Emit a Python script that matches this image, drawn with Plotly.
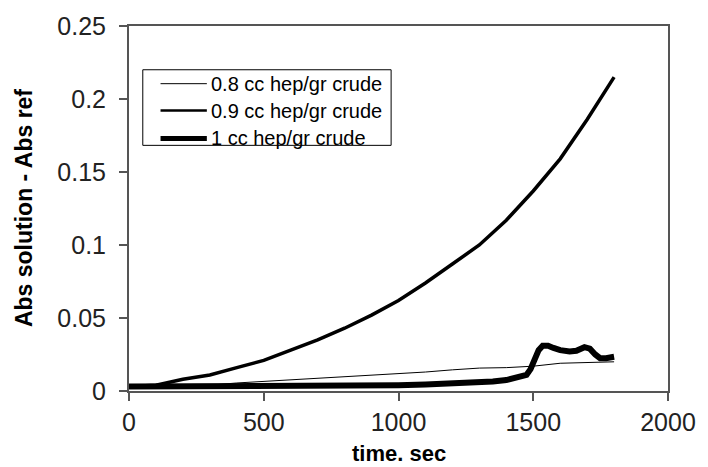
import plotly.graph_objects as go

# 0.8 cc hep/gr crude (thin)
t_08 = [0, 100, 200, 300, 400, 500, 600, 700, 800, 900, 1000, 1100, 1200, 1300, 1400, 1500, 1600, 1700, 1800]
v_08 = [0.002, 0.0025, 0.003, 0.004, 0.0055, 0.0065, 0.0075, 0.0088, 0.0098, 0.011, 0.012, 0.013, 0.0145,
        0.0157, 0.016, 0.017, 0.019, 0.0195, 0.020]

# 0.9 cc hep/gr crude (medium)
t_09 = [0, 100, 200, 300, 400, 500, 600, 700, 800, 900, 1000, 1100, 1200, 1300, 1400, 1500, 1600, 1700, 1800]
v_09 = [0.003, 0.004, 0.008, 0.011, 0.016, 0.021, 0.028, 0.035, 0.043, 0.052, 0.062, 0.074, 0.087,
        0.100, 0.117, 0.137, 0.159, 0.186, 0.215]

# 1 cc hep/gr crude (thick)
t_10 = [0, 200, 400, 600, 800, 1000, 1100, 1200, 1300, 1350, 1400, 1450, 1475, 1490, 1500, 1510, 1520,
        1535, 1555, 1575, 1600, 1635, 1660, 1690, 1710, 1730, 1748, 1770, 1800]
v_10 = [0.003, 0.003, 0.003, 0.0035, 0.004, 0.004, 0.0045, 0.005, 0.0058, 0.0065, 0.0075, 0.0095, 0.011,
        0.015, 0.019, 0.024, 0.028, 0.031, 0.031, 0.0295, 0.028, 0.027, 0.0275, 0.030, 0.029, 0.025,
        0.0225, 0.0225, 0.0235]

names = ["0.8 cc hep/gr crude", "0.9 cc hep/gr crude", "1 cc hep/gr crude"]
widths = [1, 3.5, 6]
legend_widths = [1, 2.5, 5]
x_ticks = [0, 500, 1000, 1500, 2000]
y_ticks = [0, 0.05, 0.1, 0.15, 0.2, 0.25]
x_title = "time. sec"
y_title = "Abs solution - Abs ref"

W, H = 708, 467
L, R, T, B = 129, 32, 24, 76
PW, PH = W - L - R, H - T - B


def px(xp):
    return (xp - L) / PW


def py(yp):
    return (H - B - yp) / PH


FONT = "Liberation Sans, Arial"

fig = go.Figure()
for tt, vv, nm, w in zip([t_08, t_09, t_10], [v_08, v_09, v_10], names, widths):
    fig.add_trace(go.Scatter(x=tt, y=vv, mode="lines", name=nm, line=dict(color="black", width=w)))

axis_common = dict(showline=True, linecolor="#555555", linewidth=2, mirror=True, ticks="outside",
                   ticklen=8, tickcolor="#555555", tickwidth=2, showgrid=False, zeroline=False,
                   tickfont=dict(family=FONT, size=25, color="#222222"))

shapes = [dict(type="rect", xref="paper", yref="paper", x0=px(143), x1=px(395), y0=py(144), y1=py(68),
               line=dict(color="black", width=1), fillcolor="white", layer="above")]
annotations = []
rows_y = [82, 109, 137]
for nm, lw, ry in zip(names, legend_widths, rows_y):
    shapes.append(dict(type="line", xref="paper", yref="paper", x0=px(161), x1=px(208), y0=py(ry), y1=py(ry),
                       line=dict(color="black", width=lw), layer="above"))
    annotations.append(dict(text=nm, xref="paper", yref="paper", x=px(211), y=py(ry), xanchor="left",
                            yanchor="middle", showarrow=False, borderpad=0,
                            font=dict(family=FONT, size=20, color="black")))

annotations += [
    dict(text="<b>" + x_title + "</b>", xref="paper", yref="paper", x=0.5, y=py(467),
         xanchor="center", yanchor="bottom", showarrow=False, borderpad=0,
         font=dict(family=FONT, size=22, color="black")),
    dict(text="<b>" + y_title + "</b>", xref="paper", yref="paper", x=px(22), y=0.5,
         xanchor="center", yanchor="middle", showarrow=False, textangle=-90,
         font=dict(family=FONT, size=23, color="black")),
]

fig.update_layout(
    width=W, height=H,
    margin=dict(l=L, r=R, t=T, b=B),
    paper_bgcolor="white", plot_bgcolor="white",
    showlegend=False,
    xaxis=dict(range=[0, 2000], tickvals=x_ticks, ticklabelstandoff=0, **axis_common),
    yaxis=dict(range=[0, 0.25], tickvals=y_ticks, ticklabelstandoff=8, **axis_common),
    shapes=shapes,
    annotations=annotations,
)

fig.write_html("out.html")
